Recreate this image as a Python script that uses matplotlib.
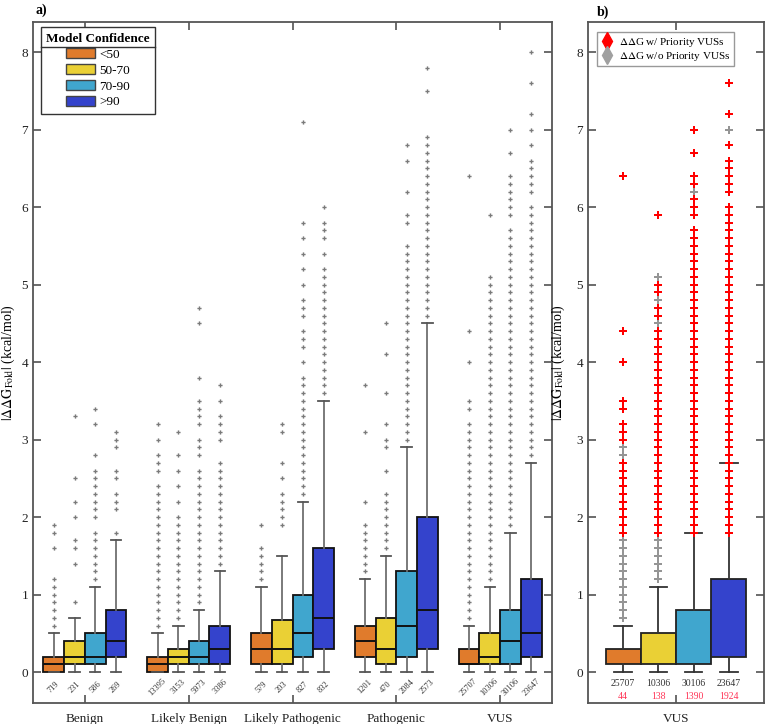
import numpy as np
import matplotlib.pyplot as plt
from matplotlib.lines import Line2D
from matplotlib.patches import Patch
from matplotlib.transforms import IdentityTransform

plt.rcParams['font.family'] = ['Liberation Serif', 'DejaVu Serif']
plt.rcParams['mathtext.fontset'] = 'stix'

groups = ['Benign', 'Likely Benign', 'Likely Pathogenic', 'Pathogenic', 'VUS']
conf_labels = ['<50', '50-70', '70-90', '>90']
conf_colors = ['#E07B2C', '#EAD035', '#40A6CE', '#3443CC']

# box stats per group, one value per confidence bin (lower whisker is 0 everywhere)
q1 = [[0.0, 0.1, 0.1, 0.2],
      [0.0, 0.1, 0.1, 0.1],
      [0.1, 0.1, 0.2, 0.3],
      [0.2, 0.1, 0.2, 0.3],
      [0.1, 0.1, 0.1, 0.2]]
med = [[0.1, 0.2, 0.2, 0.4],
       [0.1, 0.2, 0.2, 0.3],
       [0.3, 0.3, 0.5, 0.7],
       [0.4, 0.3, 0.6, 0.8],
       [0.1, 0.2, 0.4, 0.5]]
q3 = [[0.2, 0.4, 0.5, 0.8],
      [0.2, 0.3, 0.4, 0.6],
      [0.5, 0.67, 1.0, 1.6],
      [0.6, 0.7, 1.3, 2.0],
      [0.3, 0.5, 0.8, 1.2]]
whis_hi = [[0.5, 0.7, 1.1, 1.7],
           [0.5, 0.6, 0.8, 1.3],
           [1.1, 1.5, 2.2, 3.5],
           [1.2, 1.5, 2.9, 4.5],
           [0.6, 1.1, 1.8, 2.7]]
counts = [[719, 231, 586, 269],
          [13395, 3153, 5973, 3386],
          [579, 203, 827, 832],
          [1201, 470, 2084, 2573],
          [25707, 10306, 30106, 23647]]

fliers_benign = [
    [0.6, 0.7, 0.8, 0.9, 1.0, 1.1, 1.2, 1.6, 1.8, 1.9],
    [0.9, 1.4, 1.6, 1.7, 2.0, 2.2, 2.5, 3.3],
    [1.2, 1.3, 1.4, 1.5, 1.6, 1.7, 1.8, 2.0, 2.1, 2.2, 2.3, 2.4, 2.5, 2.6, 2.8, 3.2, 3.4],
    [1.8, 2.1, 2.2, 2.3, 2.5, 2.6, 2.9, 3.0, 3.1]]
fliers_lben = [
    [0.6, 0.7, 0.8, 0.9, 1.0, 1.1, 1.2, 1.3, 1.4, 1.5, 1.6, 1.7, 1.8, 1.9, 2.0, 2.1, 2.2,
     2.3, 2.4, 2.6, 2.7, 2.8, 3.0, 3.2],
    [0.7, 0.8, 0.9, 1.0, 1.1, 1.2, 1.3, 1.4, 1.5, 1.6, 1.7, 1.8, 1.9, 2.0, 2.2, 2.4, 2.6,
     2.8, 3.1],
    [0.9, 1.0, 1.1, 1.2, 1.3, 1.4, 1.5, 1.6, 1.7, 1.8, 1.9, 2.0, 2.1, 2.2, 2.3, 2.4, 2.5,
     2.6, 2.8, 2.9, 3.0, 3.2, 3.3, 3.4, 3.5, 3.8, 4.5, 4.7],
    [1.4, 1.5, 1.6, 1.7, 1.8, 1.9, 2.0, 2.1, 2.2, 2.3, 2.4, 2.5, 2.6, 2.7, 3.0, 3.1, 3.2,
     3.3, 3.5, 3.7]]
fliers_lpath = [
    [1.2, 1.3, 1.4, 1.5, 1.6, 1.9],
    [1.9, 2.0, 2.1, 2.2, 2.3, 2.5, 2.7, 3.1, 3.2],
    [2.3, 2.4, 2.5, 2.6, 2.7, 2.8, 2.9, 3.0, 3.1, 3.2, 3.3, 3.4, 3.5, 3.6, 3.7, 3.8, 4.0,
     4.2, 4.3, 4.4, 4.6, 4.7, 4.8, 5.0, 5.2, 5.4, 5.6, 5.8, 7.1],
    [3.6, 3.7, 3.8, 3.9, 4.0, 4.1, 4.2, 4.3, 4.4, 4.5, 4.6, 4.7, 4.8, 4.9, 5.0, 5.1, 5.2,
     5.4, 5.6, 5.7, 5.8, 6.0]]
fliers_path = [
    [1.3, 1.4, 1.5, 1.6, 1.7, 1.8, 1.9, 2.2, 3.1, 3.7],
    [1.6, 1.7, 1.8, 1.9, 2.0, 2.1, 2.2, 2.3, 2.6, 2.9, 3.0, 3.2, 3.6, 4.1, 4.5],
    [3.0, 3.1, 3.2, 3.3, 3.4, 3.5, 3.6, 3.7, 3.8, 3.9, 4.0, 4.1, 4.2, 4.3, 4.4, 4.5, 4.6,
     4.7, 4.8, 4.9, 5.0, 5.1, 5.2, 5.3, 5.4, 5.5, 5.8, 5.9, 6.2, 6.6, 6.8],
    [4.6, 4.7, 4.8, 4.9, 5.0, 5.1, 5.2, 5.3, 5.4, 5.5, 5.6, 5.7, 5.8, 5.9, 6.0, 6.1, 6.2,
     6.3, 6.4, 6.5, 6.6, 6.7, 6.8, 6.9, 7.5, 7.8]]
fliers_vus = [
    [0.7, 0.8, 0.9, 1.0, 1.1, 1.2, 1.3, 1.4, 1.5, 1.6, 1.7, 1.8, 1.9, 2.0, 2.1, 2.2, 2.3,
     2.4, 2.5, 2.6, 2.7, 2.8, 2.9, 3.0, 3.1, 3.2, 3.4, 3.5, 4.0, 4.4, 6.4],
    [1.2, 1.3, 1.4, 1.5, 1.6, 1.7, 1.8, 1.9, 2.0, 2.1, 2.2, 2.3, 2.4, 2.5, 2.6, 2.7, 2.8,
     2.9, 3.0, 3.1, 3.2, 3.3, 3.4, 3.5, 3.6, 3.7, 3.8, 3.9, 4.0, 4.1, 4.2, 4.3, 4.4, 4.5,
     4.6, 4.7, 4.8, 4.9, 5.0, 5.1, 5.9],
    [1.9, 2.0, 2.1, 2.2, 2.3, 2.4, 2.5, 2.6, 2.7, 2.8, 2.9, 3.0, 3.1, 3.2, 3.3, 3.4, 3.5,
     3.6, 3.7, 3.8, 3.9, 4.0, 4.1, 4.2, 4.3, 4.4, 4.5, 4.6, 4.7, 4.8, 4.9, 5.0, 5.1, 5.2,
     5.3, 5.4, 5.5, 5.6, 5.7, 5.9, 6.0, 6.1, 6.2, 6.3, 6.4, 6.7, 7.0],
    [2.8, 2.9, 3.0, 3.1, 3.2, 3.3, 3.4, 3.5, 3.6, 3.7, 3.8, 3.9, 4.0, 4.1, 4.2, 4.3, 4.4,
     4.5, 4.6, 4.7, 4.8, 4.9, 5.0, 5.1, 5.2, 5.3, 5.4, 5.5, 5.6, 5.7, 5.8, 5.9, 6.0, 6.2,
     6.3, 6.4, 6.5, 6.6, 6.8, 7.0, 7.2, 7.6, 8.0]]
fliers = [fliers_benign, fliers_lben, fliers_lpath, fliers_path, fliers_vus]

# panel b: VUS values carried by priority VUSs
priority_vals = [
    [1.8, 1.9, 2.0, 2.1, 2.2, 2.3, 2.4, 2.5, 2.6, 2.7, 3.0, 3.1, 3.2, 3.4, 3.5, 4.0, 4.4, 6.4],
    [1.8, 1.9, 2.0, 2.1, 2.2, 2.3, 2.4, 2.5, 2.6, 2.7, 2.8, 2.9, 3.0, 3.1, 3.2, 3.3, 3.4,
     3.5, 3.6, 3.7, 3.8, 3.9, 4.0, 4.1, 4.2, 4.3, 4.4, 4.6, 4.7, 4.9, 5.0, 5.9],
    [1.8, 1.9, 2.0, 2.1, 2.2, 2.3, 2.4, 2.5, 2.6, 2.7, 2.8, 2.9, 3.0, 3.1, 3.2, 3.3, 3.4,
     3.5, 3.6, 3.7, 3.8, 3.9, 4.0, 4.1, 4.2, 4.3, 4.4, 4.5, 4.6, 4.7, 4.8, 4.9, 5.0, 5.1,
     5.2, 5.3, 5.4, 5.5, 5.6, 5.7, 5.9, 6.0, 6.1, 6.3, 6.4, 6.7, 7.0],
    [1.8, 1.9, 2.0, 2.1, 2.2, 2.3, 2.4, 2.5, 2.6, 2.7, 2.8, 2.9, 3.0, 3.1, 3.2, 3.3, 3.4,
     3.5, 3.6, 3.7, 3.8, 3.9, 4.0, 4.1, 4.2, 4.3, 4.4, 4.5, 4.6, 4.7, 4.8, 4.9, 5.0, 5.1,
     5.2, 5.3, 5.4, 5.5, 5.6, 5.7, 5.8, 5.9, 6.0, 6.2, 6.3, 6.4, 6.5, 6.6, 6.8, 7.2, 7.6]]
priority_counts = [44, 138, 1390, 1924]

offsets = [-0.3, -0.1, 0.1, 0.3]
ylab = r'$|\Delta\Delta \mathrm{G}_{\mathrm{Fold}}|$ (kcal/mol)'
spine_col = '#555555'


def style_axes(ax):
    for s in ax.spines.values():
        s.set_color(spine_col)
        s.set_linewidth(1.3)
    ax.tick_params(direction='in', top=True, right=True, length=6, width=1.1,
                   color='#444444', labelsize=9.5, labelcolor='#222222')
    ax.tick_params(axis='x', pad=7)
    ax.set_ylim(-0.4, 8.39)
    ax.set_yticks(range(0, 9))


def make_stats(gi, ci, fl):
    return dict(q1=q1[gi][ci], med=med[gi][ci], q3=q3[gi][ci], whislo=0.0,
                whishi=whis_hi[gi][ci], fliers=fl)


fig = plt.figure(figsize=(7.68, 7.24), dpi=100)
ax = fig.add_axes([33 / 768, 1 - 703 / 724, 519 / 768, 681 / 724])
axb = fig.add_axes([588 / 768, 1 - 703 / 724, 176 / 768, 681 / 724])

# ---- panel a
for gi in range(len(groups)):
    for ci in range(4):
        st = make_stats(gi, ci, fliers[gi][ci])
        pos = gi + 1 + offsets[ci]
        ax.bxp([st], positions=[pos], widths=0.2, capwidths=0.1, patch_artist=True,
               boxprops=dict(facecolor=conf_colors[ci], edgecolor='#111111', linewidth=1.3),
               medianprops=dict(color='#111111', linewidth=1.4),
               whiskerprops=dict(color='#707070', linewidth=1.3),
               capprops=dict(color='#555555', linewidth=1.3),
               flierprops=dict(marker='P', markersize=3, markerfacecolor='#7a7a7a',
                               markeredgewidth=0, linestyle='none'),
               manage_ticks=False)
        ax.text(pos, -0.19, str(counts[gi][ci]), rotation=45, ha='center', va='center',
                fontsize=6, color='#333333')

style_axes(ax)
ax.set_xlim(0.5, 5.5)
ax.set_xticks(range(1, 6))
ax.set_xticklabels(groups)
ax.set_ylabel(ylab, fontsize=10)
ax.yaxis.set_label_coords(-0.031, 0.5)

handles = [Patch(facecolor=c, edgecolor='#444444', linewidth=1) for c in conf_colors]
leg = ax.legend(handles, conf_labels, title='Model Confidence', loc='upper left',
                bbox_to_anchor=(0.015, 0.992), borderaxespad=0, fontsize=9.5,
                title_fontproperties={'weight': 'bold', 'size': 9.5}, fancybox=False,
                edgecolor='#333333', framealpha=1, handlelength=2.2, handleheight=0.8,
                labelspacing=0.25, handletextpad=0.3, alignment='center')
leg.get_frame().set_linewidth(1.0)

# ---- panel b (VUS only)
vi = groups.index('VUS')
for ci in range(4):
    st = make_stats(vi, ci, fliers[vi][ci])
    pos = 1 + offsets[ci]
    axb.bxp([st], positions=[pos], widths=0.2, capwidths=0.1, patch_artist=True,
            boxprops=dict(facecolor=conf_colors[ci], edgecolor='#222222', linewidth=1.3),
            medianprops=dict(linewidth=0),
            whiskerprops=dict(color='#333333', linewidth=1.3),
            capprops=dict(color='#333333', linewidth=1.3),
            flierprops=dict(marker='P', markersize=5.5, markerfacecolor='#959595',
                            markeredgewidth=0, linestyle='none'),
            manage_ticks=False)
    axb.plot(np.full(len(priority_vals[ci]), pos), priority_vals[ci], 'P', color='#ff0000',
             markersize=5.5, markeredgewidth=0, linestyle='none')
    axb.text(pos, -0.15, str(counts[vi][ci]), ha='center', va='center', fontsize=7,
             color='#333333')
    axb.text(pos, -0.31, str(priority_counts[ci]), ha='center', va='center', fontsize=7,
             color='#ff3355')

style_axes(axb)
axb.set_xlim(0.5, 1.5)
axb.set_xticks([1])
axb.set_xticklabels(['VUS'])
axb.set_ylabel(ylab, fontsize=10)
axb.yaxis.set_label_coords(-0.12, 0.5)

hb = [Line2D([], [], marker='d', color='#ff0000', markersize=9, linestyle='none'),
      Line2D([], [], marker='d', color='#a0a0a0', markersize=9, linestyle='none')]
legb = axb.legend(hb, [r'$\Delta\Delta$G w/ Priority VUSs', r'$\Delta\Delta$G w/o Priority VUSs'],
                  loc='upper left', bbox_to_anchor=(0.05, 0.985), borderaxespad=0,
                  fontsize=8, fancybox=False, edgecolor='#999999', framealpha=1,
                  handlelength=1.2, handletextpad=0.5, labelspacing=0.1,
                  borderpad=0.3)

fig.text(35 / 768, 1 - 10 / 724, 'a)', fontsize=10, fontweight='bold', va='center')
fig.text(597 / 768, 1 - 12 / 724, 'b)', fontsize=10, fontweight='bold', va='center')

# line under the legend title, as in the original
fig.canvas.draw()
r = fig.canvas.get_renderer()
tb = leg.get_title().get_window_extent(r)
fb = leg.get_frame().get_window_extent(r)
yl = tb.y0 - 2
fig.add_artist(Line2D([fb.x0, fb.x1], [yl, yl], transform=IdentityTransform(),
                      color='#333333', linewidth=1.0))

fig.savefig('out.png', dpi=100)
